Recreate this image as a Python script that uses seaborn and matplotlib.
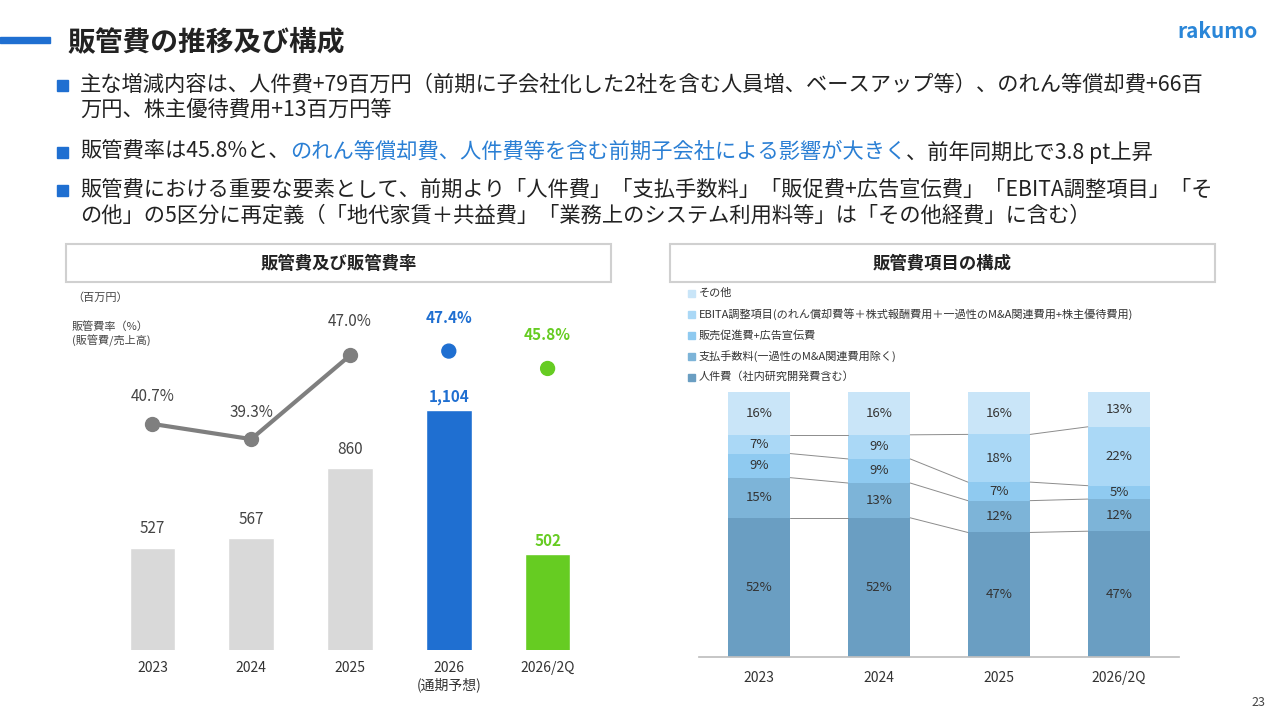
import numpy as np
import pandas as pd
import matplotlib.pyplot as plt
import seaborn as sns
from matplotlib.patches import Rectangle

# ── データ ──────────────────────────────────────────
years_left = ['2023', '2024', '2025', '2026\n(通期予想)', '2026/2Q']
sga = [527, 567, 860, 1104, 502]
sga_ratio = [40.7, 39.3, 47.0, 47.4, 45.8]
bar_colors = ['#d9d9d9', '#d9d9d9', '#d9d9d9', '#1f6fd1', '#66cc22']

years_right = ['2023', '2024', '2025', '2026/2Q']
personnel = [52, 52, 47, 47]
fees = [15, 13, 12, 12]
promo = [9, 9, 7, 5]
ebita = [7, 9, 18, 22]
other = [16, 16, 16, 13]
comp_labels = ['人件費（社内研究開発費含む）', '支払手数料(一過性のM&A関連費用除く)',
               '販売促進費+広告宣伝費',
               'EBITA調整項目(のれん償却費等＋株式報酬費用＋一過性のM&A関連費用+株主優待費用)',
               'その他']
comp_colors = ['#6a9ec2', '#7db4d8', '#8fcaf0', '#aad8f6', '#c9e5f8']

sns.set_theme(style='white')
plt.rcParams['font.family'] = ['Noto Sans CJK JP', 'DejaVu Sans']

fig = plt.figure(figsize=(12.8, 7.2), dpi=100)


def P(x, y):
    return x / 1280, 1 - y / 720


# ── ヘッダー ──────────────────────────────────────────
fig.patches.append(Rectangle(P(0, 43), 50 / 1280, 6 / 720, transform=fig.transFigure,
                             color='#1f6fd1'))
fig.text(*P(68, 42), '販管費の推移及び構成', fontsize=20, fontweight='bold',
         color='#222222', va='center')
fig.text(*P(1258, 32), 'rakumo', fontsize=15, fontweight='bold', color='#2a86d8',
         ha='right', va='center')
fig.text(*P(1265, 703), '23', fontsize=9, color='#444444', ha='right', va='center')

bullets = [
    (85, [('主な増減内容は、人件費+79百万円（前期に子会社化した2社を含む人員増、ベースアップ等）、のれん等償却費+66百', '#222222')]),
    (110, [('万円、株主優待費用+13百万円等', '#222222')]),
    (152, [('販管費率は45.8%と、', '#222222'),
           ('のれん等償却費、人件費等を含む前期子会社による影響が大きく', '#2a7fd4'),
           ('、前年同期比で3.8 pt上昇', '#222222')]),
    (190, [('販管費における重要な要素として、前期より「人件費」「支払手数料」「販促費+広告宣伝費」「EBITA調整項目」「そ', '#222222')]),
    (216, [('の他」の5区分に再定義（「地代家賃＋共益費」「業務上のシステム利用料等」は「その他経費」に含む）', '#222222')]),
]
for y, parts in bullets:
    if y in (85, 152, 190):
        fig.patches.append(Rectangle(P(57, y + 6), 11 / 1280, 11 / 720,
                                     transform=fig.transFigure, color='#1f6fd1'))
    x = 80
    for txt, col in parts:
        t = fig.text(*P(x, y), txt, fontsize=15.3, color=col, va='center')
        fig.canvas.draw()
        bb = t.get_window_extent()
        x += bb.width

# パネル見出し
for x0, x1, label in [(66, 611, '販管費及び販管費率'), (670, 1215, '販管費項目の構成')]:
    fig.patches.append(Rectangle(P(x0, 282), (x1 - x0) / 1280, 38 / 720,
                                 transform=fig.transFigure, fill=False,
                                 edgecolor='#d0d0d0', lw=1.5))
    fig.text(*P((x0 + x1) / 2, 264), label, fontsize=12.5, fontweight='bold',
             ha='center', va='center', color='#222222')

# ── 左グラフ ──────────────────────────────────────────
ax = fig.add_axes([103 / 1280, 70 / 720, 494 / 1280, 350 / 720])
df_left = pd.DataFrame({'year': years_left, 'sga': sga})
sns.barplot(data=df_left, x='year', y='sga', hue='year', palette=bar_colors,
            legend=False, width=0.46, saturation=1, ax=ax)
ax.set_ylim(100, 1564)
ax.set_xlim(-0.5, 4.5)
ax.set_xlabel('')
ax.set_ylabel('')
ax.set_yticks([])
ax.tick_params(axis='x', labelsize=10, colors='#333333', length=0, pad=8)
for s in ax.spines.values():
    s.set_visible(False)
for i, v in enumerate(sga):
    if i < 3:
        ax.text(i, v + 45, f'{v:,}', ha='center', va='bottom', fontsize=11, color='#444444')
    else:
        ax.text(i, v + 20, f'{v:,}', ha='center', va='bottom', fontsize=11,
                color=bar_colors[i], fontweight='bold')

ax2 = ax.twinx()
ax2.set_ylim(19.9, 52.1)
ax2.set_yticks([])
for s in ax2.spines.values():
    s.set_visible(False)
xs = np.arange(len(sga_ratio))
ax2.plot(xs[:3], sga_ratio[:3], color='#7f7f7f', lw=3, marker='o', ms=10, zorder=3)
ax2.scatter(xs[3:], sga_ratio[3:], color=bar_colors[3:], s=100, zorder=3)
for i, v in enumerate(sga_ratio):
    col = '#444444' if i < 3 else bar_colors[i]
    off = 1.7 if i < 2 else 2.3
    ax2.text(i, v + off, f'{v:.1f}%', ha='center', va='bottom', fontsize=11,
             color=col, fontweight='normal' if i < 3 else 'bold')

fig.text(*P(72, 298), '（百万円）', fontsize=8, color='#444444', va='center')
fig.text(*P(72, 334), '販管費率（%）\n(販管費/売上高)', fontsize=8, color='#444444',
         va='center', linespacing=1.3)

# ── 右グラフ ──────────────────────────────────────────
axr = fig.add_axes([699 / 1280, 63 / 720, 480 / 1280, 265 / 720])
series = [personnel, fees, promo, ebita, other]
totals = np.sum(series, axis=0)
bottom = np.zeros(len(years_right))
tops = []
for vals, col in zip(series, comp_colors):
    h = np.array(vals) / totals * 100
    sns.barplot(x=years_right, y=h, bottom=bottom, color=col, width=0.52,
                saturation=1, ax=axr, edgecolor='none')
    for i, (b, hh, v) in enumerate(zip(bottom, h, vals)):
        axr.text(i, b + hh / 2, f'{v}%', ha='center', va='center', fontsize=9.5,
                 color='#333333')
    bottom = bottom + h
    tops.append(bottom.copy())
# 接続線
for t in tops[:-1]:
    for i in range(len(years_right) - 1):
        axr.plot([i + 0.26, i + 1 - 0.26], [t[i], t[i + 1]], color='#8c8c8c', lw=0.7)
axr.set_ylim(0, 100)
axr.set_xlim(-0.5, 3.5)
axr.set_yticks([])
axr.set_ylabel('')
axr.tick_params(axis='x', labelsize=10, colors='#333333', length=0, pad=10)
for k, s in axr.spines.items():
    s.set_visible(k == 'bottom')
axr.spines['bottom'].set_color('#bfbfbf')

leg_y = [377, 356, 335, 314, 293]
for lab, col, y in zip(comp_labels, comp_colors, leg_y):
    fig.patches.append(Rectangle(P(688, y + 4), 7 / 1280, 7 / 720,
                                 transform=fig.transFigure, color=col))
    fig.text(*P(699, y), lab, fontsize=8, color='#333333', va='center')

fig.savefig('out.png', dpi=100)
